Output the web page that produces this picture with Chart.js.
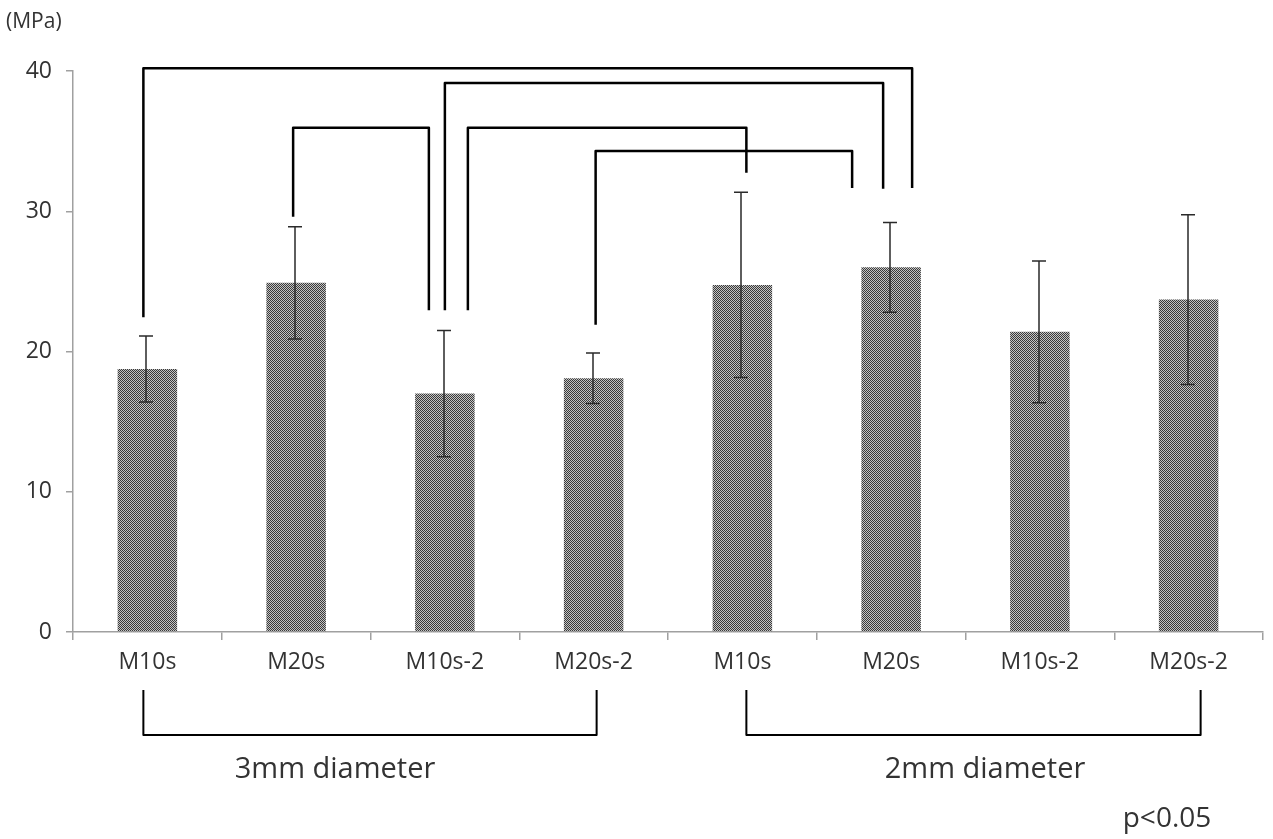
<!DOCTYPE html>
<html>
<head>
<meta charset="utf-8">
<script src="https://cdn.jsdelivr.net/npm/chart.js"></script>
<style>
  html, body { margin: 0; padding: 0; background: #fff; }
  #wrap { width: 1273px; height: 839px; position: relative; }
</style>
</head>
<body>
<div id="wrap"><canvas id="chart"></canvas></div>
<script>
// categories and values
const categories = ['M10s', 'M20s', 'M10s-2', 'M20s-2', 'M10s', 'M20s', 'M10s-2', 'M20s-2'];
const meanValues = [18.75, 24.9, 17.0, 18.1, 24.75, 26.0, 21.4, 23.7];
const sdValues = [2.35, 4.0, 4.5, 1.8, 6.6, 3.2, 5.05, 6.05];
const yTickValues = [0, 10, 20, 30, 40];

// diameter groups (category index ranges)
const groupLabels = ['3mm diameter', '2mm diameter'];
const groupStart = [0, 4];
const groupEnd = [3, 7];

// significance brackets: category indices, top level and leg ends (MPa)
const compFrom = [0, 2, 1, 2, 3];
const compTo = [5, 5, 2, 4, 5];
const compTop = [40.2, 39.15, 35.95, 35.95, 34.3];
const compFromEnd = [22.45, 22.95, 29.6, 22.95, 21.9];
const compToEnd = [31.65, 31.6, 22.95, 32.75, 31.65];
// small horizontal nudges of the legs, px
const compFromShift = [-4, 0, -3, 23, 2];
const compToShift = [21, -8, -16, 4, -39];

const axisGray = '#a0a0a0';
const textColor = '#333';
const fontFamily = '"Open Sans", "Noto Sans", sans-serif';

// dotted fill like the original bars
function makePattern() {
  const c = document.createElement('canvas');
  c.width = 2; c.height = 2;
  const g = c.getContext('2d');
  g.fillStyle = '#c4c4c4';
  g.fillRect(0, 0, 2, 2);
  g.fillStyle = '#3a3a3a';
  g.fillRect(0, 0, 1, 1);
  g.fillRect(1, 1, 1, 1);
  return g.createPattern(c, 'repeat');
}

const overlayPlugin = {
  id: 'overlay',
  afterDatasetsDraw(chart) {
    const ctx = chart.ctx;
    const xs = chart.scales.x;
    const ys = chart.scales.y;
    const area = chart.chartArea;

    // error bars
    ctx.save();
    ctx.strokeStyle = '#2a2a2a';
    ctx.lineWidth = 1.5;
    meanValues.forEach((m, i) => {
      const x = Math.round(xs.getPixelForValue(i)) - 1;
      const yTop = ys.getPixelForValue(m + sdValues[i]);
      const yBot = ys.getPixelForValue(m - sdValues[i]);
      ctx.beginPath();
      ctx.moveTo(x, yTop); ctx.lineTo(x, yBot);
      ctx.moveTo(x - 7, yTop); ctx.lineTo(x + 7, yTop);
      ctx.moveTo(x - 7, yBot); ctx.lineTo(x + 7, yBot);
      ctx.stroke();
    });
    ctx.restore();

    // significance brackets
    ctx.save();
    ctx.strokeStyle = '#000';
    ctx.lineWidth = 2.5;
    ctx.lineJoin = 'round';
    compFrom.forEach((f, k) => {
      const x1 = xs.getPixelForValue(f) + compFromShift[k];
      const x2 = xs.getPixelForValue(compTo[k]) + compToShift[k];
      const yt = ys.getPixelForValue(compTop[k]);
      ctx.beginPath();
      ctx.moveTo(x1, ys.getPixelForValue(compFromEnd[k]));
      ctx.lineTo(x1, yt);
      ctx.lineTo(x2, yt);
      ctx.lineTo(x2, ys.getPixelForValue(compToEnd[k]));
      ctx.stroke();
    });
    ctx.restore();

    // group brackets under the axis
    ctx.save();
    ctx.strokeStyle = '#000';
    ctx.lineWidth = 2;
    ctx.lineJoin = 'round';
    const legTop = area.bottom + 58;
    const legBot = area.bottom + 103;
    groupLabels.forEach((lab, g) => {
      const x1 = xs.getPixelForValue(groupStart[g]) + (g === 0 ? -4 : 4);
      const x2 = xs.getPixelForValue(groupEnd[g]) + (g === 0 ? 3 : 12);
      ctx.beginPath();
      ctx.moveTo(x1, legTop); ctx.lineTo(x1, legBot);
      ctx.lineTo(x2, legBot); ctx.lineTo(x2, legTop);
      ctx.stroke();
    });
    ctx.fillStyle = textColor;
    ctx.font = '29px ' + fontFamily;
    ctx.textAlign = 'center';
    ctx.textBaseline = 'middle';
    ctx.fillText(groupLabels[0], 335, area.bottom + 138);
    ctx.fillText(groupLabels[1], 985, area.bottom + 138);
    ctx.font = '28px ' + fontFamily;
    ctx.fillText('p<0.05', 1167, area.bottom + 187);
    ctx.textAlign = 'left';
    ctx.font = '21px ' + fontFamily;
    ctx.fillText('(MPa)', 6, 22);
    ctx.restore();
  }
};

const ctx = document.getElementById('chart').getContext('2d');
new Chart(ctx, {
  type: 'bar',
  data: {
    labels: categories,
    datasets: [{
      data: meanValues,
      backgroundColor: makePattern(),
      borderWidth: 0,
      barPercentage: 0.4,
      categoryPercentage: 1.0
    }]
  },
  options: {
    responsive: true,
    maintainAspectRatio: false,
    animation: false,
    layout: { padding: { top: 71, right: 10, bottom: 0, left: 0 } },
    plugins: {
      legend: { display: false },
      tooltip: { enabled: false }
    },
    scales: {
      x: {
        afterFit: s => { s.height = 207; },
        border: { color: axisGray, width: 1.5 },
        grid: { offset: true, drawOnChartArea: false, color: axisGray, tickLength: 8, lineWidth: 1.5 },
        ticks: { color: textColor, font: { size: 23, family: fontFamily }, padding: 9 }
      },
      y: {
        min: 0,
        max: 40,
        afterFit: s => { s.width = 73; },
        afterBuildTicks: s => { s.ticks = yTickValues.map(v => ({ value: v })); },
        border: { color: axisGray, width: 1.5 },
        grid: { drawOnChartArea: false, color: axisGray, tickLength: 7, lineWidth: 1.5 },
        ticks: { color: textColor, font: { size: 23, family: fontFamily }, padding: 14 }
      }
    }
  },
  plugins: [overlayPlugin]
});
</script>
</body>
</html>
